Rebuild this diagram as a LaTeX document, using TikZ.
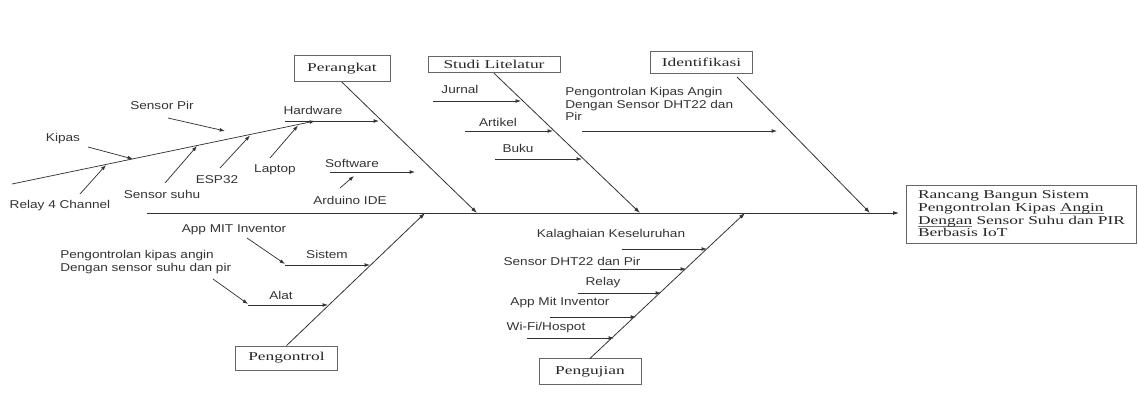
\documentclass[tikz,border=0pt]{standalone}
\usepackage{fontspec}
\setmainfont{Liberation Serif}
\newfontfamily\lblfont[FakeStretch=1.2]{Liberation Sans}
\newfontfamily\boxfont[FakeStretch=1.45]{Liberation Serif}
\newcommand\mytightlines{\lineskiplimit=-100pt\relax\lineskip=0pt\relax}
\newcommand\myul[1]{\setbox0\hbox{#1}\rlap{\color{black!55}\rule[-1.4pt]{\wd0}{0.45pt}}\box0}
\usetikzlibrary{arrows.meta}
\begin{document}
\begin{tikzpicture}[x=0.75pt,y=-0.75pt,
  lab/.style={font=\lblfont\fontsize{8.5}{9.5}\selectfont, text=black!80, inner sep=0pt},
  cat/.style={draw=black!60, line width=0.6pt, font=\boxfont\fontsize{9}{11}\selectfont, text=black!85, inner sep=0pt},
  bone/.style={draw=black!80, line width=0.6pt, -{Latex[length=4.5pt,width=3pt]}},
  sub/.style={draw=black!80, line width=0.55pt, -{Latex[length=4pt,width=2.8pt]}}
]
\useasboundingbox (0,0) rectangle (1138,403);

% category boxes
\node[cat, minimum width=72pt, minimum height=20pt] (perangkat) at (342,68.5) {Perangkat};
\node[cat, minimum width=99pt, minimum height=12.5pt] (studi) at (494,64.5) {Studi Litelatur};
\node[cat, minimum width=77pt, minimum height=16pt] (ident) at (701.5,62.5) {Identifikasi};
\node[cat, minimum width=76pt, minimum height=18pt] (pengontrol) at (286.5,358) {Pengontrol};
\node[cat, minimum width=76.5pt, minimum height=19pt] (pengujian) at (590,371.5) {Pengujian};
\node[cat, minimum width=172pt, minimum height=43.5pt, align=left,
      execute at begin node=\mytightlines,
      font=\boxfont\fontsize{9}{9.5}\selectfont] (hasil) at (1021.5,214)
  {Rancang Bangun Sistem\\ Pengontrolan Kipas \myul{Angin}\\ \myul{Dengan}\ Sensor Suhu dan PIR\\ Berbasis IoT};

% spine
\coordinate (sp0) at (147,213);
\coordinate (sp1) at (899,213);
\draw[bone] (sp0) -- (sp1);

% bone ends on spine
\coordinate (eP) at (477,213);
\coordinate (eS) at (640,213);
\coordinate (eI) at (870,213);
\coordinate (eC) at (425,213);
\coordinate (eU) at (745,213);
\coordinate (iTop) at (737,77);
\draw[bone] (perangkat.south) -- (eP);
\draw[bone] (studi.south) -- (eS);
\draw[bone] (iTop) -- (eI);
\draw[bone] (pengontrol.north) -- (eC);
\draw[bone] (pengujian.north) -- (eU);

% ---------- Perangkat ----------
\node[lab] (hw) at (313,110) {Hardware};
\coordinate (hw0) at (285,121);
\coordinate (hw1) at (379,121);
\draw[sub] (hw0) -- (hw1);
\coordinate (d0) at (12,184);
\coordinate (d1) at (315,121);
\draw[sub] (d0) -- (d1);

\node[lab] (kipas) at (63,139) {Kipas};
\coordinate (k0) at (88,147); \coordinate (k1) at (133,159);
\draw[sub] (k0) -- (k1);
\node[lab] (relay4) at (60,206) {Relay 4 Channel};
\coordinate (r0) at (80,194); \coordinate (r1) at (106,165);
\draw[sub] (r0) -- (r1);
\node[lab] (pir) at (162,105) {Sensor Pir};
\coordinate (p0) at (168,118); \coordinate (p1) at (225,131);
\draw[sub] (p0) -- (p1);
\node[lab] (suhu) at (162,194) {Sensor suhu};
\coordinate (s0) at (165,183); \coordinate (s1) at (197,146);
\draw[sub] (s0) -- (s1);
\node[lab] (esp) at (217,180) {ESP32};
\coordinate (e0) at (220,168); \coordinate (e1) at (250,135.5);
\draw[sub] (e0) -- (e1);
\node[lab] (laptop) at (275,170) {Laptop};
\coordinate (l0) at (270,158); \coordinate (l1) at (298,125.5);
\draw[sub] (l0) -- (l1);

\node[lab] (sw) at (352,163) {Software};
\coordinate (sw0) at (330,172); \coordinate (sw1) at (415,172);
\draw[sub] (sw0) -- (sw1);
\node[lab] (ard) at (350,200) {Arduino IDE};
\coordinate (a0) at (340,188); \coordinate (a1) at (354,176);
\draw[sub] (a0) -- (a1);

% ---------- Studi Litelatur ----------
\node[lab] (jurnal) at (460,89) {Jurnal};
\coordinate (j0) at (433,101); \coordinate (j1) at (521,101);
\draw[sub] (j0) -- (j1);
\node[lab] (artikel) at (498,122) {Artikel};
\coordinate (ar0) at (465,131); \coordinate (ar1) at (553,131);
\draw[sub] (ar0) -- (ar1);
\node[lab] (buku) at (518,148) {Buku};
\coordinate (b0) at (495,159); \coordinate (b1) at (582,159);
\draw[sub] (b0) -- (b1);

% ---------- Identifikasi ----------
\node[lab, anchor=north west, align=left] (idtext) at (565,87)
  {Pengontrolan Kipas Angin\\ Dengan Sensor DHT22 dan\\ Pir};
\coordinate (id0) at (582,131); \coordinate (id1) at (777,131);
\draw[sub] (id0) -- (id1);

% ---------- Pengontrol ----------
\node[lab] (appmit) at (234,230) {App MIT Inventor};
\coordinate (am0) at (247,238); \coordinate (am1) at (285,264);
\draw[sub] (am0) -- (am1);
\node[lab] (sistem) at (327,254) {Sistem};
\coordinate (si0) at (285,265); \coordinate (si1) at (370,265);
\draw[sub] (si0) -- (si1);
\node[lab, anchor=north west, align=left] (pktext) at (60,250)
  {Pengontrolan kipas angin\\ Dengan sensor suhu dan pir};
\coordinate (pk0) at (213,279); \coordinate (pk1) at (248,304);
\draw[sub] (pk0) -- (pk1);
\node[lab] (alat) at (281,295) {Alat};
\coordinate (al0) at (248,305); \coordinate (al1) at (328,305);
\draw[sub] (al0) -- (al1);

% ---------- Pengujian ----------
\node[lab] (kal) at (611,235) {Kalaghaian Keseluruhan};
\coordinate (u10) at (622,249); \coordinate (u11) at (707,249);
\draw[sub] (u10) -- (u11);
\node[lab] (dht) at (572,261) {Sensor DHT22 dan Pir};
\coordinate (u20) at (600,269); \coordinate (u21) at (686,269);
\draw[sub] (u20) -- (u21);
\node[lab] (relay) at (603,283) {Relay};
\coordinate (u30) at (578,293); \coordinate (u31) at (661,293);
\draw[sub] (u30) -- (u31);
\node[lab] (appmit2) at (560,303) {App Mit Inventor};
\coordinate (u40) at (550,317); \coordinate (u41) at (636,317);
\draw[sub] (u40) -- (u41);
\node[lab] (wifi) at (546,328) {Wi-Fi/Hospot};
\coordinate (u50) at (527,338); \coordinate (u51) at (614,338);
\draw[sub] (u50) -- (u51);

\end{tikzpicture}
\end{document}
